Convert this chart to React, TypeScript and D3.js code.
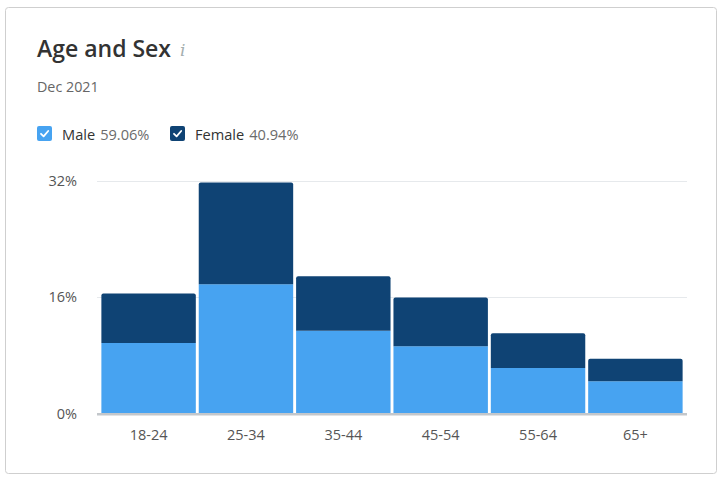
import * as d3 from "d3";
import React, { useEffect, useRef } from "react";

const ageGroups = ["18-24", "25-34", "35-44", "45-54", "55-64", "65+"];
const maleValues = [9.7, 17.8, 11.4, 9.25, 6.25, 4.45];
const femaleValues = [6.8, 14.0, 7.5, 6.7, 4.8, 3.1];
const yTicks = [0, 16, 32];
const legendItems = [
  { name: "Male", share: "59.06%" },
  { name: "Female", share: "40.94%" },
];

const width = 723;
const height = 482;
const maleColor = "#47a3f1";
const femaleColor = "#0f4374";
const font = "'Open Sans', 'Noto Sans', sans-serif";

const App = () => {
  const ref = useRef<HTMLDivElement>(null);

  useEffect(() => {
    const svg = d3.create("svg")
      .attr("width", width)
      .attr("height", height)
      .style("position", "absolute")
      .style("left", 0)
      .style("top", 0)
      .style("font-family", font);

    // card
    svg.append("rect")
      .attr("x", 5.5).attr("y", 7.5)
      .attr("width", 711).attr("height", 466)
      .attr("rx", 3)
      .attr("fill", "#fff")
      .attr("stroke", "#cfcfcf");

    svg.append("text")
      .attr("x", 37).attr("y", 57)
      .attr("font-size", 23).attr("font-weight", 600)
      .attr("fill", "#333")
      .text("Age and Sex");

    svg.append("text")
      .attr("x", 180).attr("y", 56)
      .attr("font-size", 17).attr("font-style", "italic")
      .attr("font-family", "'DejaVu Serif', serif")
      .attr("fill", "#a3aeae")
      .text("i");

    svg.append("text")
      .attr("x", 37).attr("y", 92)
      .attr("font-size", 14.3).attr("fill", "#666")
      .text("Dec 2021");

    // legend
    const colors = [maleColor, femaleColor];
    const legendX = [37, 170];
    legendItems.forEach((item, i) => {
      const g = svg.append("g").attr("transform", `translate(${legendX[i]},126)`);
      g.append("rect")
        .attr("width", 15).attr("height", 15).attr("rx", 2)
        .attr("fill", colors[i]);
      g.append("path")
        .attr("d", "M4,7.8 L6.6,10.3 L11.2,5")
        .attr("fill", "none").attr("stroke", "#fff")
        .attr("stroke-width", 1.8)
        .attr("stroke-linecap", "round").attr("stroke-linejoin", "round");
      const t = g.append("text")
        .attr("x", 25).attr("y", 14)
        .attr("font-size", 14.6).attr("fill", "#333");
      t.append("tspan").text(item.name);
      t.append("tspan").attr("fill", "#6b6b6b").attr("dx", 5).text(item.share);
    });

    const x = d3.scaleBand<string>()
      .domain(ageGroups)
      .range([97, 687])
      .paddingInner(0.03)
      .paddingOuter(0.045);
    const y = d3.scaleLinear().domain([0, 32]).range([413.5, 181]);

    // grid
    svg.append("g")
      .selectAll("line")
      .data(yTicks)
      .join("line")
      .attr("x1", 97).attr("x2", 687)
      .attr("y1", d => Math.round(y(d)) + 0.5)
      .attr("y2", d => Math.round(y(d)) + 0.5)
      .attr("stroke", d => d === 0 ? "#c3c7cb" : "#e6e9ec")
      .attr("stroke-width", d => d === 0 ? 2 : 1.2);

    svg.append("g")
      .selectAll("text")
      .data(yTicks)
      .join("text")
      .attr("x", 77)
      .attr("y", d => y(d) + 5)
      .attr("text-anchor", "end")
      .attr("font-size", 14.5)
      .attr("fill", "#555")
      .text(d => `${d}%`);

    const rows = ageGroups.map((g, i) => ({ group: g, male: maleValues[i], female: femaleValues[i] }));
    const stacked = d3.stack<any>().keys(["male", "female"])(rows);

    stacked.forEach((layer, li) => {
      svg.append("g")
        .selectAll("path")
        .data(layer)
        .join("path")
        .attr("fill", colors[li])
        .attr("d", d => {
          const x0 = x(d.data.group)!;
          const w = x.bandwidth();
          const y0 = y(d[0]);
          const y1 = y(d[1]);
          const r = li === 1 ? 2 : 0;
          const p = d3.path();
          p.moveTo(x0, y0);
          p.lineTo(x0, y1 + r);
          p.quadraticCurveTo(x0, y1, x0 + r, y1);
          p.lineTo(x0 + w - r, y1);
          p.quadraticCurveTo(x0 + w, y1, x0 + w, y1 + r);
          p.lineTo(x0 + w, y0);
          p.closePath();
          return p.toString();
        });
    });

    // base line on top of bars
    svg.append("line")
      .attr("x1", 97).attr("x2", 687)
      .attr("y1", y(0) + 0.5).attr("y2", y(0) + 0.5)
      .attr("stroke", "#c3c7cb").attr("stroke-width", 2);

    svg.append("g")
      .selectAll("text")
      .data(ageGroups)
      .join("text")
      .attr("x", d => x(d)! + x.bandwidth() / 2)
      .attr("y", 440)
      .attr("text-anchor", "middle")
      .attr("font-size", 14.5)
      .attr("fill", "#555")
      .text(d => d);

    if (ref.current) {
      ref.current.innerHTML = "";
      ref.current.appendChild(svg.node()!);
    }
  }, []);

  return <div ref={ref}></div>;
};

export default App;
